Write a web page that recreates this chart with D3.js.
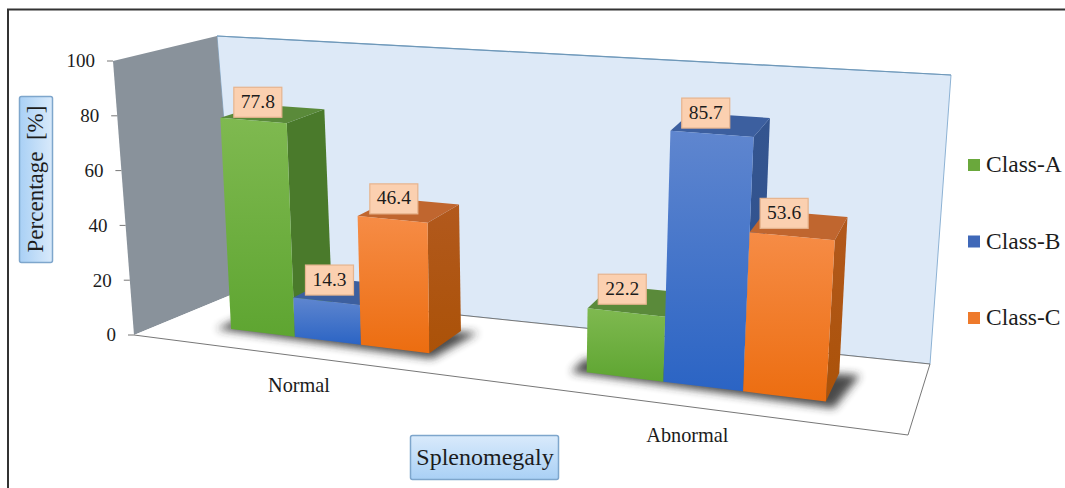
<!DOCTYPE html>
<html><head><meta charset="utf-8">
<script src="https://cdn.jsdelivr.net/npm/d3@7/dist/d3.min.js"></script>
<style>html,body{margin:0;padding:0;background:#fff}svg{display:block}text{font-family:"Liberation Serif",serif;fill:#1c1c1c}</style>
</head><body><div id="chart"></div>
<script>
const categories = ["Normal", "Abnormal"];
const seriesNames = ["Class-A", "Class-B", "Class-C"];
const classA = [77.8, 22.2];
const classB = [14.3, 85.7];
const classC = [46.4, 53.6];
const yTicks = [0, 20, 40, 60, 80, 100];
const frontColors = [["#7fb950","#5ea531"],["#5f86cf","#2b64c4"],["#f68c46","#ec6d10"]];
const sideColors = [["#4a7a2b","#4a7a2b"],["#34558f","#2f5190"],["#b2591d","#ab5208"]];
const topColors = ["#5a8a3a","#3c5f9f","#c0662f"];
const legendColors = ["#6aa83c","#3f68b8","#ee7a2b"];

const W = 1065, H = 488;
const svg = d3.select("#chart").append("svg").attr("width", W).attr("height", H);
const defs = svg.append("defs");
const grad = (id, a, b, x2=0, y2=1) => {
  const g = defs.append("linearGradient").attr("id", id).attr("x1",0).attr("y1",0).attr("x2",x2).attr("y2",y2);
  g.append("stop").attr("offset","0%").attr("stop-color",a);
  g.append("stop").attr("offset","100%").attr("stop-color",b);
};
frontColors.forEach((c,i)=>grad("f"+i,c[0],c[1]));
sideColors.forEach((c,i)=>grad("s"+i,c[0],c[1]));
grad("boxV","#d9eafb","#a9d0f5");
grad("boxH","#a9d0f5","#d9eafb",1,0);
defs.append("filter").attr("id","blur").attr("x","-20%").attr("y","-50%").attr("width","140%").attr("height","200%")
  .append("feGaussianBlur").attr("stdDeviation",4);

// scales
const x0 = d3.scaleBand().domain(categories).range([0,1]).paddingInner(0.42).paddingOuter(0.2);
const x1 = d3.scaleBand().domain(seriesNames).range([0,x0.bandwidth()]);
const y = d3.scaleLinear().domain([0,100]).range([0,1]);
const k = 0.83, warp = t => t*k/(1+(k-1)*t);
const lerp = (a,b,t)=>[a[0]+(b[0]-a[0])*t, a[1]+(b[1]-a[1])*t];
// box corners
const fl=[134,335], fr=[908,435], bl=[238,292], br=[930,364];
const tfl=[113,61], tfr=[932,122], tbl=[217,36], tbr=[951,75];
// bars lean a little less than the walls
const lean = 4;
const proj = (t,v,val) => {
  const u = warp(t), h = y(val);
  const floor = lerp(lerp(fl,fr,u), lerp(bl,br,u), v);
  const top = lerp(lerp(tfl,tfr,u), lerp(tbl,tbr,u), v);
  const p = lerp(floor, top, h);
  return [p[0] + lean*(1-1.5*u)*h, p[1]];
};
const pathOf = pts => d3.line()(pts)+"Z";
const vF = 0.32, vB = 0.74;

const g = svg.append("g");
// image frame
g.append("path").attr("d","M8,488V9.5H1065").attr("fill","none").attr("stroke","#333").attr("stroke-width",2);

// walls and floor
g.append("path").attr("d",pathOf([bl,br,tbr,tbl])).attr("fill","#dde9f7").attr("stroke","#8db2d4").attr("stroke-width",1);
g.append("path").attr("d",d3.line()([tbl,tbr])).attr("stroke","#6f98b8").attr("stroke-width",1.2).attr("fill","none");
g.append("path").attr("d",pathOf([fl,bl,tbl,tfl])).attr("fill","#89929b");
g.append("path").attr("d",d3.line()([bl,br,fr,fl])).attr("fill","#fff").attr("stroke","#777").attr("stroke-width",1);

// y axis ticks and labels
yTicks.forEach(t=>{
  const p = lerp(fl,tfl,y(t));
  g.append("line").attr("x1",p[0]-6).attr("x2",p[0]).attr("y1",p[1]).attr("y2",p[1]).attr("stroke","#777");
  g.append("text").attr("x",p[0]-18).attr("y",p[1]+2).attr("text-anchor","end").attr("dominant-baseline","middle")
   .attr("font-size",19).text(t);
});

// bars
const rows = categories.map((c,ci)=>seriesNames.map((s,si)=>({c,s,si,val:[classA,classB,classC][si][ci]})));
rows.forEach(row=>{
  const t0 = x0(row[0].c), t1 = t0 + x0.bandwidth();
  const shadow = [proj(t0-0.018,vF-0.03,0),proj(t1+0.012,vF-0.08,0),proj(t1+0.025,vB,0),proj(t0-0.018,vF+0.2,0)];
  g.append("path").attr("d",pathOf(shadow)).attr("fill","#2a2a2a").attr("opacity",0.85).attr("filter","url(#blur)");
  row.forEach(d=>{
    const a = t0 + x1(d.s), b = a + x1.bandwidth();
    g.append("path").attr("d",pathOf([proj(b,vF,0),proj(b,vB,0),proj(b,vB,d.val),proj(b,vF,d.val)])).attr("fill",`url(#s${d.si})`);
    g.append("path").attr("d",pathOf([proj(a,vF,d.val),proj(b,vF,d.val),proj(b,vB,d.val),proj(a,vB,d.val)])).attr("fill",topColors[d.si]);
    g.append("path").attr("d",pathOf([proj(a,vF,0),proj(b,vF,0),proj(b,vF,d.val),proj(a,vF,d.val)])).attr("fill",`url(#f${d.si})`);
  });
});
// data labels
const boxW = 48, boxH = 30;
rows.forEach(row=>{
  const t0 = x0(row[0].c);
  row.forEach(d=>{
    const a = t0 + x1(d.s) + x1.bandwidth()/2;
    const p = proj(a,(vF+vB)/2,d.val);
    const cx = p[0]-15, cy = p[1]-11.5;
    g.append("rect").attr("x",cx-boxW/2).attr("y",cy-boxH/2).attr("width",boxW).attr("height",boxH)
      .attr("fill","#fbd0b0").attr("stroke","#e6b48e").attr("stroke-width",1.2);
    g.append("text").attr("x",cx).attr("y",cy+1).attr("text-anchor","middle").attr("dominant-baseline","middle")
      .attr("font-size",19.5).text(d.val.toFixed(1));
  });
});
// category labels
categories.forEach(c=>{
  const p = proj(x0(c)+x0.bandwidth()/2,0,0);
  g.append("text").attr("x",p[0]-1).attr("y",p[1]+31).attr("text-anchor","middle").attr("dominant-baseline","middle")
    .attr("font-size",20.3).text(c);
});
// axis titles
g.append("rect").attr("x",19.5).attr("y",96.5).attr("width",33).attr("height",166).attr("rx",2).attr("fill","url(#boxH)").attr("stroke","#7ea6cc").attr("stroke-width",1.5);
g.append("text").attr("transform","translate(38,179) rotate(-90)").attr("text-anchor","middle").attr("dominant-baseline","middle")
  .attr("font-size",23).attr("fill","#1d3550").style("white-space","pre").text("Percentage  [%]");
g.append("rect").attr("x",410.5).attr("y",435.5).attr("width",148).attr("height",44).attr("rx",2).attr("fill","url(#boxV)").attr("stroke","#7ea6cc").attr("stroke-width",1.5);
g.append("text").attr("x",485).attr("y",459).attr("text-anchor","middle").attr("dominant-baseline","middle")
  .attr("font-size",24).attr("fill","#1d3550").text("Splenomegaly");
// legend
const legY = d3.scalePoint().domain(seriesNames).range([165,318]);
seriesNames.forEach((s,i)=>{
  g.append("rect").attr("x",968).attr("y",legY(s)-6).attr("width",12).attr("height",12).attr("fill",legendColors[i]);
  g.append("text").attr("x",986).attr("y",legY(s)+2).attr("dominant-baseline","middle").attr("font-size",23.5).text(s);
});
</script></body></html>
